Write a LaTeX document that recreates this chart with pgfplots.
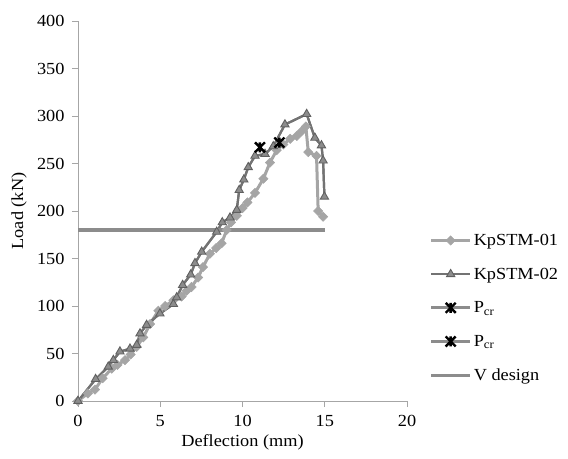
\documentclass[border=0pt]{standalone}
\usepackage{pgfplots}
\pgfplotsset{compat=1.18}
\usepackage{fontspec}
\setmainfont[FakeStretch=1.08]{Liberation Serif}
\definecolor{ser1}{HTML}{A5A5A5}
\definecolor{ser2line}{HTML}{737373}
\definecolor{ser2fill}{HTML}{8C8C8C}
\definecolor{ser2edge}{HTML}{606060}
\definecolor{vdes}{HTML}{8C8C8C}
\definecolor{axgray}{HTML}{A6A6A6}
\pgfdeclareplotmark{xstar}{%
  \pgfpathmoveto{\pgfqpoint{0pt}{\pgfplotmarksize}}%
  \pgfpathlineto{\pgfqpoint{0pt}{-\pgfplotmarksize}}%
  \pgfpathmoveto{\pgfqpoint{-\pgfplotmarksize}{\pgfplotmarksize}}%
  \pgfpathlineto{\pgfqpoint{\pgfplotmarksize}{-\pgfplotmarksize}}%
  \pgfpathmoveto{\pgfqpoint{-\pgfplotmarksize}{-\pgfplotmarksize}}%
  \pgfpathlineto{\pgfqpoint{\pgfplotmarksize}{\pgfplotmarksize}}%
  \pgfusepathqstroke}
\pgfplotstableread{
x y
0 0
1.07 23
1.84 36
2.15 43
2.55 52
3.16 55
3.57 59
3.77 71
4.17 80
4.98 92
5.8 102
6.0 109
6.36 122
6.85 133
7.11 145
7.52 157
8.43 178
8.77 188
9.24 193
9.65 201
9.8 222
10.08 233
10.35 246
10.76 258
11.37 260
11.87 268
12.58 291
13.9 302
14.4 277
14.8 269
14.9 253
14.98 215
}\kptwo
\begin{document}
\begin{tikzpicture}
\begin{axis}[
  scale only axis,
  width=329bp, height=380bp,
  xmin=0, xmax=20, ymin=0, ymax=400,
  xtick={0,5,10,15,20}, ytick={0,50,...,400},
  axis x line=bottom, axis y line=left,
  axis line style={-, axgray, line width=0.9bp},
  tick style={axgray, line width=0.9bp},
  tick align=outside, major tick length=6bp,
  clip=false,
  font=\fontsize{17}{20}\selectfont,
  /pgf/number format/assume math mode=true,
  xticklabel style={yshift=-5bp},
  yticklabel style={xshift=-4bp},
  xlabel={Deflection (mm)}, ylabel={Load (kN)},
  xlabel style={at={(axis description cs:0.5,-0.11)}, anchor=center},
  ylabel style={at={(axis description cs:-0.179,0.5)}, anchor=center},
  legend style={at={(axis description cs:1.068,0.445)}, anchor=north west, draw=none, fill=none,
    font=\fontsize{17}{20}\selectfont, row sep=17bp, inner sep=0pt},
  legend cell align=left,
  legend image code/.code={\draw[mark repeat=2,mark phase=2,#1] plot coordinates {(0bp,0bp) (19.5bp,0bp) (39bp,0bp)};},
]
\addplot[color=ser1, line width=3bp, mark=square*, mark size=3.3bp, mark options={rotate=45, fill=ser1, draw=ser1, line width=0.5bp}] coordinates {
(0,0) (0.6,8) (1.03,12) (1.5,24) (2.05,34) (2.4,38) (2.86,43) (3.2,49) (3.57,57) (3.97,67)
(4.38,81) (4.88,95) (5.3,100) (5.8,106) (6.3,110) (6.6,116) (6.9,120) (7.3,130) (7.6,141)
(8.02,155) (8.4,161) (8.73,166) (9.04,180) (9.3,188) (9.65,195) (10.0,203) (10.3,209)
(10.76,219) (11.27,234) (11.67,251) (12.08,264) (12.48,270) (12.9,276) (13.3,279) (13.6,284)
(13.85,289) (14.0,262) (14.5,258) (14.6,200) (14.9,194)
};
\addlegendentry{KpSTM-01}
\addplot[forget plot, draw=ser2line, line width=2.2bp] table {\kptwo};
\addplot[draw=ser2line, line width=2.2bp, mark=triangle*, mark size=4.8bp, mark options={fill=ser2fill, draw=ser2edge, line width=0.9bp}] table {\kptwo};
\addlegendentry{KpSTM-02}
\addplot[color=vdes, line width=3bp, mark=xstar, mark size=5bp, mark options={black, line width=2.4bp}] coordinates {(11.06,267)};
\addlegendentry{P\textsubscript{cr}}
\addplot[color=vdes, line width=3bp, mark=xstar, mark size=5bp, mark options={black, line width=2.4bp}] coordinates {(12.24,272)};
\addlegendentry{P\textsubscript{cr}}
\addplot[color=vdes, line width=3.2bp] coordinates {(0,180) (15,180)};
\addlegendentry{V design}
\end{axis}
\pgfresetboundingbox
\path[use as bounding box] (-78bp,-58bp) rectangle (490bp,401bp);
\end{tikzpicture}
\end{document}
